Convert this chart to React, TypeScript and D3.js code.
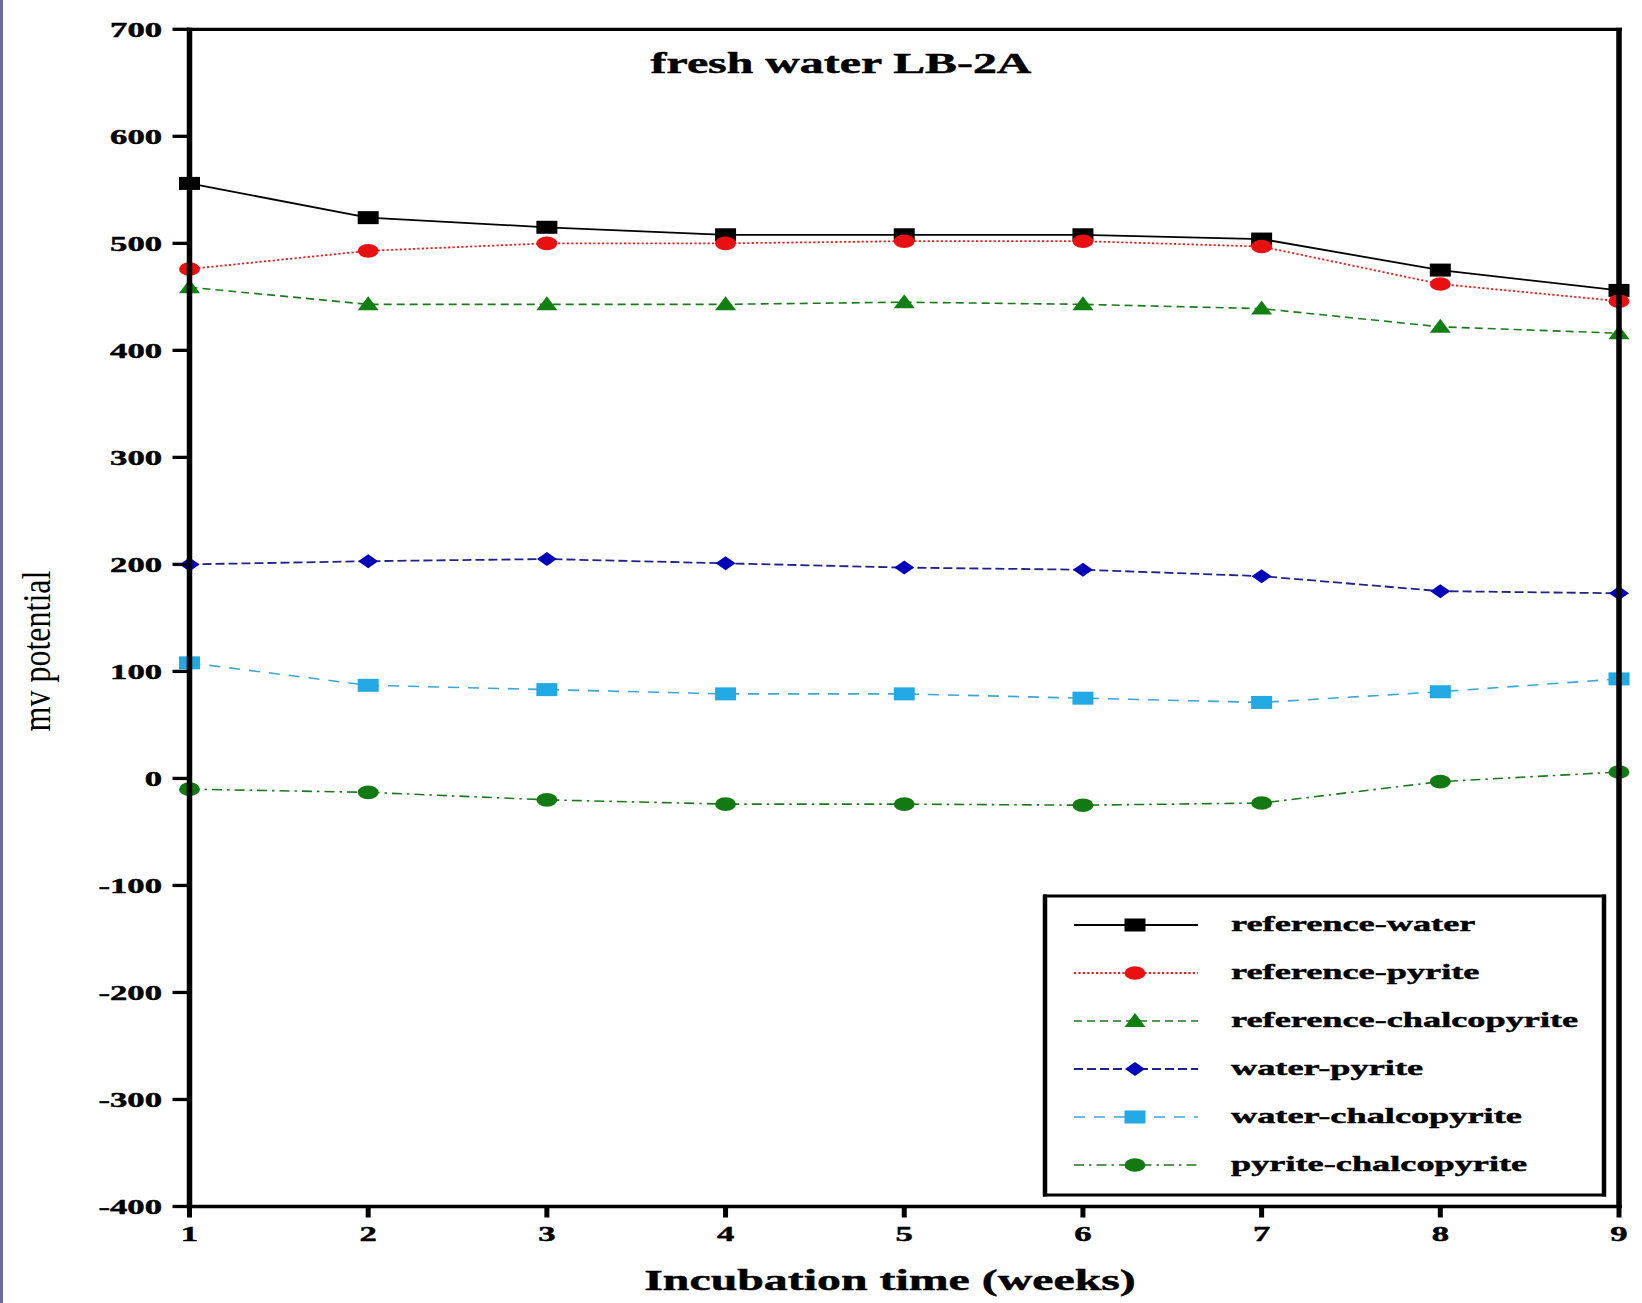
import React from "react";
import * as d3 from "d3";

const weeks = [1, 2, 3, 4, 5, 6, 7, 8, 9];
const referenceWater = [556, 524, 515, 508, 508, 508, 504, 475, 456];
const referencePyrite = [476, 493, 500, 500, 502, 502, 497, 462, 446];
const referenceChalcopyrite = [459, 443, 443, 443, 445, 443, 439, 422, 416];
const waterPyrite = [200, 203, 205, 201, 197, 195, 189, 175, 173];
const waterChalcopyrite = [108, 87, 83, 79, 79, 75, 71, 81, 93];
const pyriteChalcopyrite = [-10, -13, -20, -24, -24, -25, -23, -3, 6];

const yTicks = [700, 600, 500, 400, 300, 200, 100, 0, -100, -200, -300, -400];
const xTicks = [1, 2, 3, 4, 5, 6, 7, 8, 9];

const titleText = "fresh water LB-2A";
const xTitle = "Incubation time (weeks)";
const yTitle = "mv potential";

type Series = {
  name: string;
  values: number[];
  line: string;
  fill: string;
  dash: string;
  width: number;
  marker: "square" | "circle" | "triangle" | "diamond";
};

const series: Series[] = [
  { name: "reference-water", values: referenceWater, line: "#000000", fill: "#000000", dash: "", width: 1.8, marker: "square" },
  { name: "reference-pyrite", values: referencePyrite, line: "#e02020", fill: "#e81010", dash: "2.2,2.2", width: 1.8, marker: "circle" },
  { name: "reference-chalcopyrite", values: referenceChalcopyrite, line: "#1a7a1a", fill: "#118011", dash: "8,5", width: 1.6, marker: "triangle" },
  { name: "water-pyrite", values: waterPyrite, line: "#22228c", fill: "#0000bb", dash: "9,4", width: 1.8, marker: "diamond" },
  { name: "water-chalcopyrite", values: waterChalcopyrite, line: "#3aa6d8", fill: "#22a8e2", dash: "11,9", width: 1.6, marker: "square" },
  { name: "pyrite-chalcopyrite", values: pyriteChalcopyrite, line: "#1a7a1a", fill: "#137a13", dash: "10,5,2.5,5", width: 1.6, marker: "circle" },
];

const FONT = "'Liberation Serif', 'Times New Roman', serif";
const SX = 1.65;

function SText(props: {
  x: number; y: number; size: number; anchor?: string; weight?: string | number; sx?: number; children: React.ReactNode;
}) {
  const { x, y, size, anchor = "start", weight = "bold", sx = SX, children } = props;
  return (
    <text
      transform={`translate(${x},${y}) scale(${sx},1)`}
      textAnchor={anchor as any}
      fontSize={size}
      fontWeight={weight as any}
      fontFamily={FONT}
      fill="#000"
      stroke="#000"
      strokeWidth={0.45}
    >
      {children}
    </text>
  );
}

function Marker({ kind, cx, cy, fill }: { kind: Series["marker"]; cx: number; cy: number; fill: string }) {
  if (kind === "square") return <rect x={cx - 10.5} y={cy - 6.5} width={21} height={13} fill={fill} />;
  if (kind === "circle") return <ellipse cx={cx} cy={cy} rx={10.5} ry={6.8} fill={fill} />;
  if (kind === "triangle")
    return <path d={`M${cx},${cy - 8} L${cx + 10.5},${cy + 6} L${cx - 10.5},${cy + 6} Z`} fill={fill} />;
  return <path d={`M${cx},${cy - 7} L${cx + 10},${cy} L${cx},${cy + 7} L${cx - 10},${cy} Z`} fill={fill} />;
}

export default function App() {
  const W = 1642, H = 1303;
  const left = 189.5, right = 1619, top = 29.3, bottom = 1206.5;
  const x = d3.scaleLinear().domain([1, 9]).range([left, right]);
  const y = d3.scaleLinear().domain([-400, 700]).range([bottom, top]);

  const lineGen = d3
    .line<number>()
    .x((_, i) => x(weeks[i]))
    .y((d) => y(d));

  const legX = 1045, legY = 896, legW = 559, legH = 299;
  const rowY0 = 925, rowStep = 48;

  return (
    <svg width={W} height={H} style={{ position: "absolute", left: 0, top: 0, background: "#fff" }}>
      <rect x={0} y={0} width={W} height={H} fill="#fff" />
      <rect x={0} y={0} width={3} height={H} fill="#6c68a0" />

      {series.map((s) => (
        <path
          key={s.name + "-line"}
          d={lineGen(s.values) || ""}
          fill="none"
          stroke={s.line}
          strokeWidth={s.width}
          strokeDasharray={s.dash || undefined}
        />
      ))}
      {series.map((s) => (
        <g key={s.name + "-marks"}>
          {s.values.map((v, i) => (
            <Marker key={i} kind={s.marker} cx={x(weeks[i])} cy={y(v)} fill={s.fill} />
          ))}
        </g>
      ))}

      <line x1={left - 3} x2={right + 3} y1={top} y2={top} stroke="#000" strokeWidth={3.3} />
      <line x1={left - 3} x2={right + 3} y1={bottom} y2={bottom} stroke="#000" strokeWidth={3.5} />
      <line x1={left} x2={left} y1={top - 1.5} y2={bottom + 1.5} stroke="#000" strokeWidth={5.5} />
      <line x1={right} x2={right} y1={top - 1.5} y2={bottom + 1.5} stroke="#000" strokeWidth={5.5} />

      {yTicks.map((t) => (
        <g key={"yt" + t}>
          <line x1={left - 17} x2={left} y1={y(t)} y2={y(t)} stroke="#000" strokeWidth={3.3} />
          <SText x={162} y={y(t) + 7.2} size={21} anchor="end">
            {t < 0 ? "-" + Math.abs(t) : String(t)}
          </SText>
        </g>
      ))}

      {xTicks.map((t) => (
        <g key={"xt" + t}>
          <line x1={x(t)} x2={x(t)} y1={bottom} y2={bottom + 11} stroke="#000" strokeWidth={5} />
          <SText x={x(t)} y={1241} size={21} anchor="middle">
            {String(t)}
          </SText>
        </g>
      ))}

      <SText x={841} y={73.3} size={29} anchor="middle">
        {titleText}
      </SText>
      <SText x={890} y={1290} size={29} anchor="middle">
        {xTitle}
      </SText>
      <text
        transform={`translate(36.5,651) scale(1.27,1) rotate(-90)`}
        textAnchor="middle"
        dominantBaseline="central"
        fontSize={32}
        fontWeight="normal"
        fontFamily={FONT}
        fill="#000"
      >
        {yTitle}
      </text>

      <rect x={legX} y={legY} width={legW} height={legH} fill="#fff" stroke="none" />
      <line x1={legX - 2} x2={legX + legW + 2} y1={legY} y2={legY} stroke="#000" strokeWidth={3} />
      <line x1={legX - 2} x2={legX + legW + 2} y1={legY + legH} y2={legY + legH} stroke="#000" strokeWidth={3} />
      <line x1={legX} x2={legX} y1={legY - 1.5} y2={legY + legH + 1.5} stroke="#000" strokeWidth={4.5} />
      <line x1={legX + legW} x2={legX + legW} y1={legY - 1.5} y2={legY + legH + 1.5} stroke="#000" strokeWidth={4.5} />
      {series.map((s, i) => {
        const ry = rowY0 + i * rowStep;
        return (
          <g key={s.name + "-leg"}>
            <line
              x1={1074}
              x2={1198}
              y1={ry}
              y2={ry}
              stroke={s.line}
              strokeWidth={s.width}
              strokeDasharray={s.dash || undefined}
            />
            <Marker kind={s.marker} cx={1135} cy={ry} fill={s.fill} />
            <SText x={1231} y={ry + 6} size={22} anchor="start">
              {s.name}
            </SText>
          </g>
        );
      })}
    </svg>
  );
}
